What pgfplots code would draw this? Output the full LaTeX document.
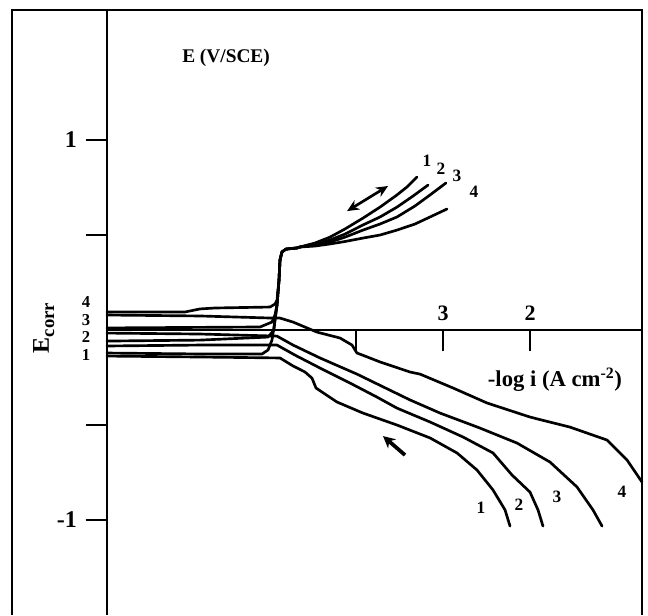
\documentclass[border=0pt]{standalone}
\usepackage{fontspec}
\setmainfont{Liberation Serif}
\usepackage{pgfplots}
\pgfplotsset{compat=1.18}
\usetikzlibrary{arrows.meta}
\begin{document}
\begin{tikzpicture}
\begin{axis}[
  scale only axis, width=401.25pt, height=453.75pt,
  xmin=-6.862, xmax=-0.713, ymin=-1.5, ymax=1.684,
  axis x line*=middle, axis y line*=left,
  axis line style={line width=1.8pt, -},
  xtick={-4,-3,-2}, xticklabels={,3,2},
  ytick={-1,-0.5,0.5,1}, yticklabels={-1,,,1},
  minor tick num=0,
  tick align=outside, major tick length=16pt,
  tick style={line width=1.8pt, black},
  xticklabel style={font=\fontsize{16.5}{18}\selectfont\bfseries, anchor=south, yshift=19.5pt},
  yticklabel style={font=\fontsize{18}{20}\selectfont\bfseries, xshift=-3pt},
  clip=false,
  curve/.style={line width=2pt, black, line join=round, line cap=round, mark=none},
]
% forward (anodic) scans
\addplot[curve] coordinates {(-6.862,-0.121) (-5.793,-0.126) (-5.080,-0.126) (-5.011,-0.105) (-4.966,-0.053) (-4.931,0.053) (-4.908,0.132) (-4.885,0.263) (-4.874,0.368) (-4.851,0.411) (-4.805,0.426) (-4.678,0.432) (-4.644,0.437) (-4.471,0.458) (-4.299,0.489) (-4.126,0.532) (-3.920,0.589) (-3.724,0.647) (-3.529,0.711) (-3.414,0.753) (-3.299,0.805)};
\addplot[curve] coordinates {(-6.862,-0.058) (-5.793,-0.053) (-5.011,-0.037) (-4.943,0) (-4.931,0.053) (-4.908,0.132) (-4.885,0.263) (-4.874,0.368) (-4.851,0.411) (-4.805,0.426) (-4.678,0.432) (-4.644,0.437) (-4.471,0.453) (-4.299,0.474) (-4.126,0.505) (-3.920,0.553) (-3.724,0.595) (-3.529,0.647) (-3.345,0.705) (-3.172,0.763)};
\addplot[curve] coordinates {(-6.862,0.011) (-5.103,0.016) (-4.966,0.042) (-4.931,0.080) (-4.908,0.132) (-4.885,0.263) (-4.874,0.368) (-4.851,0.411) (-4.805,0.426) (-4.678,0.432) (-4.644,0.437) (-4.471,0.447) (-4.299,0.463) (-4.126,0.489) (-3.920,0.526) (-3.724,0.558) (-3.529,0.595) (-3.322,0.653) (-3.149,0.711) (-2.966,0.774)};
\addplot[curve] coordinates {(-6.862,0.095) (-5.966,0.095) (-5.793,0.111) (-5.621,0.116) (-4.989,0.121) (-4.931,0.137) (-4.908,0.158) (-4.885,0.263) (-4.874,0.368) (-4.851,0.411) (-4.805,0.426) (-4.678,0.432) (-4.644,0.437) (-4.471,0.442) (-4.299,0.453) (-4.126,0.466) (-3.920,0.484) (-3.724,0.500) (-3.529,0.526) (-3.322,0.558) (-3.149,0.595) (-2.954,0.637)};
% reverse (cathodic) scans
\addplot[curve] coordinates {(-6.862,-0.137) (-5.793,-0.142) (-4.874,-0.147) (-4.724,-0.189) (-4.586,-0.221) (-4.506,-0.253) (-4.460,-0.305) (-4.356,-0.337) (-4.218,-0.379) (-3.920,-0.437) (-3.529,-0.500) (-3.149,-0.568) (-2.839,-0.647) (-2.609,-0.737) (-2.425,-0.842) (-2.287,-0.947) (-2.230,-1.032)};
\addplot[curve] coordinates {(-6.862,-0.084) (-5.793,-0.079) (-4.908,-0.079) (-4.701,-0.132) (-4.414,-0.200) (-4.069,-0.279) (-3.759,-0.353) (-3.529,-0.411) (-3.149,-0.484) (-2.770,-0.563) (-2.425,-0.647) (-2.207,-0.763) (-2.000,-0.853) (-1.908,-0.947) (-1.851,-1.032)};
\addplot[curve] coordinates {(-6.862,-0.016) (-5.793,-0.021) (-4.908,-0.032) (-4.724,-0.079) (-4.414,-0.147) (-3.989,-0.232) (-3.379,-0.368) (-3.034,-0.437) (-2.575,-0.516) (-2.149,-0.595) (-1.770,-0.695) (-1.460,-0.826) (-1.276,-0.947) (-1.172,-1.032)};
\addplot[curve] coordinates {(-6.862,0.079) (-5.793,0.074) (-4.966,0.063) (-4.874,0.063) (-4.724,0.042) (-4.448,-0.011) (-4.184,-0.042) (-4.046,-0.079) (-3.989,-0.121) (-3.897,-0.137) (-3.724,-0.168) (-3.379,-0.221) (-3.264,-0.232) (-2.885,-0.305) (-2.494,-0.384) (-2.000,-0.458) (-1.540,-0.511) (-1.115,-0.579) (-0.885,-0.684) (-0.713,-0.800)};
% frame
\draw[line width=2pt, line join=miter] (axis cs:-7.954,-1.5) -- (axis cs:-7.954,1.684) -- (axis cs:-0.713,1.684) -- (axis cs:-0.713,-1.5);
% texts
\node[font=\fontsize{14.5}{16}\selectfont\bfseries] at (axis cs:-5.494,1.432) {E (V/SCE)};
\node[font=\fontsize{17}{19}\selectfont\bfseries] at (axis cs:-1.713,-0.263) {-log i (A cm\textsuperscript{-2})};
\node[rotate=90, inner sep=0pt] at (axis cs:-7.590,0.011) {\fontsize{18}{20}\selectfont\bfseries E\raisebox{-4pt}{\fontsize{14}{16}\selectfont corr}};
\begin{scope}[every node/.style={font=\fontsize{12.5}{14}\selectfont\bfseries, inner sep=0pt}]
\node at (axis cs:-7.103,0.147) {4};
\node at (axis cs:-7.103,0.055) {3};
\node at (axis cs:-7.103,-0.037) {2};
\node at (axis cs:-7.103,-0.129) {1};
\end{scope}
\begin{scope}[every node/.style={font=\fontsize{13}{15}\selectfont\bfseries, inner sep=0pt}]
\node at (axis cs:-3.184,0.889) {1};
\node at (axis cs:-3.023,0.847) {2};
\node at (axis cs:-2.839,0.811) {3};
\node at (axis cs:-2.644,0.726) {4};
\node at (axis cs:-2.563,-0.937) {1};
\node at (axis cs:-2.126,-0.921) {2};
\node at (axis cs:-1.690,-0.879) {3};
\node at (axis cs:-0.943,-0.853) {4};
\end{scope}
\draw[line width=2pt, {Stealth[length=9pt,width=8pt]}-{Stealth[length=9pt,width=8pt]}] (axis cs:-4.103,0.626) -- (axis cs:-3.632,0.758);
\draw[line width=2.8pt, -{Stealth[length=9pt,width=9pt]}] (axis cs:-3.437,-0.658) -- (axis cs:-3.690,-0.558);
\coordinate (bbA) at (axis cs:-8.092,-1.5);
\coordinate (bbB) at (axis cs:-0.644,1.737);
\end{axis}
\pgfresetboundingbox
\path (bbA) rectangle (bbB);
\end{tikzpicture}
\end{document}
